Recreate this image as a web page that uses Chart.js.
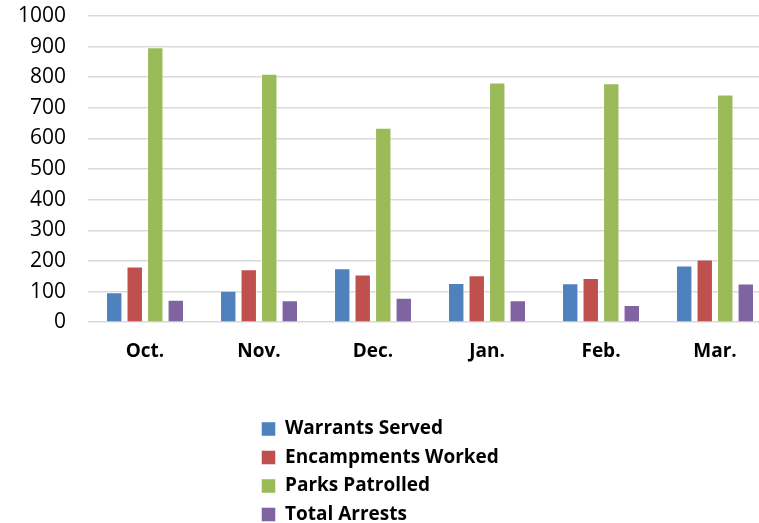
<!DOCTYPE html>
<html>
<head>
<meta charset="utf-8">
<script src="https://cdn.jsdelivr.net/npm/chart.js@4/dist/chart.umd.min.js"></script>
<style>
  html, body { margin: 0; padding: 0; background: #fff; overflow: hidden; }
  #wrap { width: 759px; height: 523px; overflow: hidden; position: relative; }
  #box { width: 776px; height: 523px; position: absolute; left: 0; top: 0; }
</style>
</head>
<body>
<div id="wrap"><div id="box"><canvas id="c"></canvas></div></div>
<script>
const categories = ['Oct.', 'Nov.', 'Dec.', 'Jan.', 'Feb.', 'Mar.'];
const warrantsServed = [98, 103, 176, 128, 127, 185];
const encampmentsWorked = [182, 173, 156, 153, 144, 205];
const parksPatrolled = [898, 811, 635, 783, 780, 744];
const totalArrests = [73, 72, 80, 72, 56, 126];
const yTicks = [0, 100, 200, 300, 400, 500, 600, 700, 800, 900, 1000];

const FONT = '"Open Sans", "Liberation Sans", sans-serif';

const legendColumn = {
  id: 'legendColumn',
  beforeLayout(chart) {
    const lg = chart.legend;
    if (lg && !lg._patched) {
      const orig = lg.update;
      lg.update = function (mw, mh, m) {
        const r = orig.call(this, Math.min(mw, 270), mh, m);
        this.height -= 11;
        return r;
      };
      lg._patched = true;
    }
  },
  afterLayout(chart) {
    const lg = chart.legend;
    if (lg) { lg.left = 252; lg.right = 252 + 270; }
  }
};

function ds(label, data, color) {
  return { label, data, backgroundColor: color, borderColor: 'rgba(255,255,255,0.45)', borderWidth: 1,
           barPercentage: 0.8, categoryPercentage: 0.72 };
}

new Chart(document.getElementById('c'), {
  type: 'bar',
  data: {
    labels: categories,
    datasets: [
      ds('Warrants Served', warrantsServed, '#4F81BD'),
      ds('Encampments Worked', encampmentsWorked, '#C0504D'),
      ds('Parks Patrolled', parksPatrolled, '#9BBB59'),
      ds('Total Arrests', totalArrests, '#8064A2')
    ]
  },
  options: {
    responsive: true,
    maintainAspectRatio: false,
    animation: false,
    layout: { padding: { top: 16, right: 4, left: 0, bottom: 0 } },
    plugins: {
      tooltip: { enabled: false },
      legend: {
        position: 'bottom',
        align: 'start',
        labels: {
          boxWidth: 14, boxHeight: 14, padding: 9.5, color: '#000',
          font: { family: FONT, size: 19, weight: 'bold' }
        }
      }
    },
    scales: {
      x: {
        grid: { display: false, drawTicks: false },
        border: { display: false },
        ticks: { color: '#000', padding: 18, font: { family: FONT, size: 19, weight: 'bold' } },
        afterFit(s) { s.height += 29; s.paddingLeft = 0; s.paddingRight = 0; }
      },
      y: {
        min: 0, max: 1000,
        afterBuildTicks(s) { s.ticks = yTicks.map(v => ({ value: v })); },
        grid: { color: '#d9d9d9', lineWidth: 1.6, drawTicks: false },
        border: { display: false },
        ticks: { color: '#000', padding: 22, autoSkip: false,
                 font: { family: FONT, size: 21 },
                 callback: (v) => String(v) },
        afterFit(s) { s.width = 88; s.paddingTop = 0; s.paddingBottom = 0; }
      }
    }
  },
  plugins: [legendColumn]
});
</script>
</body>
</html>
